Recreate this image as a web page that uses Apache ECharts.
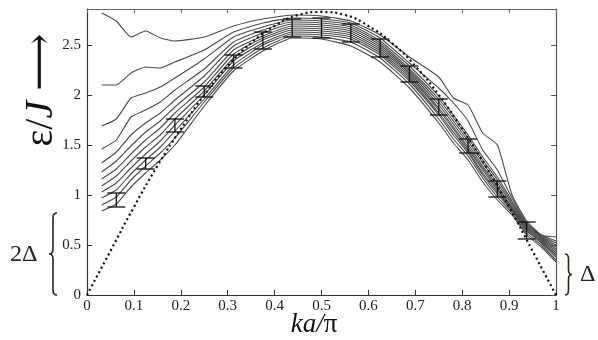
<!DOCTYPE html>
<html>
<head>
<meta charset="utf-8">
<script src="https://cdn.jsdelivr.net/npm/echarts@6/dist/echarts.min.js"></script>
<style>
  html, body { margin: 0; padding: 0; background: #fff; }
  #chart { width: 598px; height: 340px; }
</style>
</head>
<body>
<div id="chart"></div>
<script>
// k a / pi sample points shared by all finite-size curves
const kValues = [0.03125, 0.0625, 0.09375, 0.125, 0.15625, 0.1875, 0.25, 0.3125, 0.375, 0.4375, 0.5,
  0.5625, 0.625, 0.6875, 0.75, 0.78125, 0.8125, 0.84375, 0.875, 0.90625, 0.9375, 0.96875, 1];

// one row per curve, top curve first
const curves = [
  [2.82, 2.74, 2.58, 2.64, 2.57, 2.54, 2.58, 2.69, 2.76, 2.80, 2.79, 2.74, 2.60, 2.38, 2.18, 1.97, 1.90, 1.62, 1.50, 1.00, 0.74, 0.60, 0.58],
  [2.10, 2.10, 2.22, 2.28, 2.27, 2.33, 2.45, 2.63, 2.72, 2.77, 2.76, 2.72, 2.57, 2.32, 2.07, 1.92, 1.74, 1.45, 1.25, 0.97, 0.72, 0.60, 0.54],
  [1.69, 1.76, 1.97, 2.02, 2.08, 2.17, 2.36, 2.58, 2.68, 2.75, 2.74, 2.70, 2.54, 2.29, 1.99, 1.80, 1.60, 1.38, 1.18, 0.94, 0.71, 0.59, 0.52],
  [1.46, 1.55, 1.78, 1.85, 1.93, 2.05, 2.26, 2.53, 2.65, 2.73, 2.72, 2.68, 2.52, 2.26, 1.96, 1.77, 1.57, 1.35, 1.15, 0.92, 0.70, 0.58, 0.50],
  [1.32, 1.43, 1.60, 1.72, 1.82, 1.95, 2.19, 2.49, 2.62, 2.71, 2.70, 2.66, 2.50, 2.24, 1.93, 1.74, 1.54, 1.32, 1.12, 0.90, 0.69, 0.57, 0.48],
  [1.23, 1.34, 1.49, 1.63, 1.74, 1.88, 2.13, 2.45, 2.59, 2.69, 2.68, 2.64, 2.48, 2.22, 1.90, 1.71, 1.51, 1.29, 1.09, 0.88, 0.68, 0.56, 0.46],
  [1.16, 1.26, 1.41, 1.55, 1.67, 1.82, 2.08, 2.41, 2.57, 2.67, 2.66, 2.62, 2.46, 2.20, 1.87, 1.68, 1.48, 1.27, 1.07, 0.87, 0.67, 0.55, 0.44],
  [1.09, 1.19, 1.34, 1.48, 1.60, 1.76, 2.04, 2.37, 2.55, 2.65, 2.64, 2.60, 2.44, 2.18, 1.85, 1.66, 1.46, 1.25, 1.05, 0.86, 0.66, 0.54, 0.42],
  [1.03, 1.12, 1.27, 1.41, 1.54, 1.70, 2.00, 2.34, 2.52, 2.63, 2.62, 2.58, 2.42, 2.16, 1.82, 1.63, 1.44, 1.22, 1.03, 0.85, 0.65, 0.53, 0.40],
  [0.97, 1.05, 1.21, 1.35, 1.48, 1.64, 1.96, 2.30, 2.50, 2.61, 2.60, 2.56, 2.40, 2.14, 1.80, 1.60, 1.42, 1.20, 1.01, 0.84, 0.64, 0.52, 0.38],
  [0.90, 0.98, 1.15, 1.29, 1.42, 1.57, 1.93, 2.27, 2.47, 2.59, 2.58, 2.53, 2.37, 2.11, 1.76, 1.56, 1.39, 1.17, 0.98, 0.82, 0.62, 0.50, 0.35],
  [0.84, 0.91, 1.08, 1.22, 1.35, 1.50, 1.89, 2.24, 2.44, 2.57, 2.56, 2.49, 2.33, 2.07, 1.72, 1.52, 1.35, 1.13, 0.95, 0.80, 0.60, 0.48, 0.33]
];

// error bars
const errK = [0.0625, 0.125, 0.1875, 0.25, 0.3125, 0.375, 0.4375, 0.5, 0.5625, 0.625, 0.6875, 0.75, 0.8125, 0.875, 0.9375];
const errLow = [0.88, 1.26, 1.63, 1.98, 2.27, 2.46, 2.58, 2.57, 2.53, 2.38, 2.13, 1.80, 1.42, 0.98, 0.56];
const errHigh = [1.02, 1.37, 1.76, 2.09, 2.40, 2.63, 2.76, 2.77, 2.71, 2.56, 2.29, 1.96, 1.56, 1.14, 0.73];

// dotted reference dispersion
const dotK = [0, 0.05, 0.1, 0.15, 0.2, 0.25, 0.3, 0.35, 0.4, 0.45, 0.5, 0.55, 0.6, 0.65, 0.7, 0.75, 0.8, 0.85, 0.9, 0.95, 1];
const dotE = [0, 0.44, 0.88, 1.29, 1.66, 2.0, 2.29, 2.52, 2.69, 2.80, 2.83, 2.80, 2.69, 2.52, 2.29, 2.0, 1.66, 1.29, 0.88, 0.44, 0];

// gap annotations: [k edge, low, high, side (-1 left, 1 right)]
const gapBraces = [
  [0, 0, 0.82, -1],
  [1, 0, 0.41, 1],
];

const chart = echarts.init(document.getElementById("chart"));
const serif = "Liberation Serif, DejaVu Serif, serif";
const axisColor = "#333";
const braceColor = "#2e2616";

const curveSeries = curves.map((vals) => ({
  type: "line",
  data: vals.map((v, i) => [kValues[i], v]),
  showSymbol: false,
  smooth: 0.15,
  silent: true,
  lineStyle: { color: "#4a4a4a", width: 1.1 },
  z: 2,
}));

const errStyle = { stroke: "#111", lineWidth: 1.3 };

function bracePath(xTip, xBody, yTop, yBot) {
  const ym = (yTop + yBot) / 2;
  const xm = (xTip + xBody) / 2;
  return `M${xBody},${yTop} Q${xm},${yTop} ${xm},${yTop + 5} L${xm},${ym - 5} Q${xm},${ym} ${xTip},${ym} ` +
    `Q${xm},${ym} ${xm},${ym + 5} L${xm},${yBot - 5} Q${xm},${yBot} ${xBody},${yBot}`;
}

const option = {
  animation: false,
  grid: { left: 87, right: 42, top: 9, bottom: 45 },
  xAxis: [
    {
      type: "value", min: 0, max: 1, interval: 0.1,
      axisLine: { onZero: false, lineStyle: { color: axisColor, width: 1.2 } },
      axisTick: { inside: true, length: 5, lineStyle: { color: axisColor } },
      axisLabel: { color: "#222", fontFamily: serif, fontSize: 15, margin: 4 },
      splitLine: { show: false },
    },
    {
      type: "value", min: 0, max: 1, interval: 0.1, position: "top",
      axisLine: { show: true, onZero: false, lineStyle: { color: "#666", width: 1 } },
      axisTick: { show: true, inside: true, length: 4, lineStyle: { color: "#666" } },
      axisLabel: { show: false },
      splitLine: { show: false },
    },
  ],
  yAxis: [
    {
      type: "value", min: 0, max: 2.86, interval: 0.5,
      axisLine: { show: true, onZero: false, lineStyle: { color: axisColor, width: 1.2 } },
      axisTick: { show: true, inside: true, length: 5, lineStyle: { color: axisColor } },
      axisLabel: { color: "#222", fontFamily: serif, fontSize: 15, margin: 6, showMaxLabel: false },
      splitLine: { show: false },
    },
    {
      type: "value", min: 0, max: 2.86, interval: 0.5, position: "right",
      axisLine: { show: true, onZero: false, lineStyle: { color: "#555", width: 1.2 } },
      axisTick: { show: true, inside: true, length: 5, lineStyle: { color: "#555" } },
      axisLabel: { show: false },
      splitLine: { show: false },
    },
  ],
  series: [
    ...curveSeries,
    {
      type: "line",
      data: dotK.map((k, i) => [k, dotE[i]]),
      showSymbol: false,
      smooth: true,
      silent: true,
      lineStyle: { color: "#111", width: 2.2, type: [2, 3] },
      z: 3,
    },
    {
      type: "custom",
      data: errK.map((k, i) => [k, errLow[i], errHigh[i]]),
      encode: { x: 0, y: [1, 2] },
      silent: true,
      z: 4,
      renderItem(params, api) {
        const k = api.value(0);
        const lo = api.coord([k, api.value(1)]);
        const hi = api.coord([k, api.value(2)]);
        const w = 9;
        return {
          type: "group",
          children: [
            { type: "line", shape: { x1: lo[0], y1: lo[1], x2: hi[0], y2: hi[1] }, style: errStyle },
            { type: "line", shape: { x1: lo[0] - w, y1: lo[1], x2: lo[0] + w, y2: lo[1] }, style: errStyle },
            { type: "line", shape: { x1: hi[0] - w, y1: hi[1], x2: hi[0] + w, y2: hi[1] }, style: errStyle },
          ],
        };
      },
    },
    {
      // curly braces marking the gaps
      type: "custom",
      data: gapBraces,
      encode: { x: 0, y: [1, 2] },
      clip: false,
      silent: true,
      renderItem(params, api) {
        const k = api.value(0);
        const side = api.value(3);
        const lo = api.coord([k, api.value(1)]);
        const hi = api.coord([k, api.value(2)]);
        const xTip = side < 0 ? lo[0] - 38 : lo[0] + 16;
        const xBody = side < 0 ? lo[0] - 30 : lo[0] + 9;
        return {
          type: "path",
          shape: { pathData: bracePath(xTip, xBody, hi[1], lo[1]) },
          style: { stroke: braceColor, lineWidth: 1.6, fill: null },
        };
      },
    },
  ],
  graphic: [
    {
      type: "text", left: 10, top: 243,
      style: { text: "2Δ", font: `24px ${serif}`, fill: "#2a2418" },
    },
    {
      type: "text", left: 580, top: 263,
      style: { text: "Δ", font: `24px ${serif}`, fill: "#222" },
    },
    {
      type: "text", x: 41, y: 90, rotation: Math.PI / 2,
      style: {
        text: "{e|ε/}{j|J}{e| ⟶}",
        align: "center", verticalAlign: "middle",
        rich: {
          e: { fontFamily: serif, fontSize: 40, fill: "#111" },
          j: { fontFamily: serif, fontSize: 40, fontStyle: "italic", fill: "#111" },
        },
      },
    },
    {
      type: "text", x: 314, y: 325,
      style: {
        text: "{i|ka/}{n|π}",
        align: "center", verticalAlign: "middle",
        rich: {
          i: { fontFamily: serif, fontSize: 27, fontStyle: "italic", fill: "#111" },
          n: { fontFamily: serif, fontSize: 27, fill: "#111" },
        },
      },
    },
  ],
};

chart.setOption(option);
</script>
</body>
</html>
